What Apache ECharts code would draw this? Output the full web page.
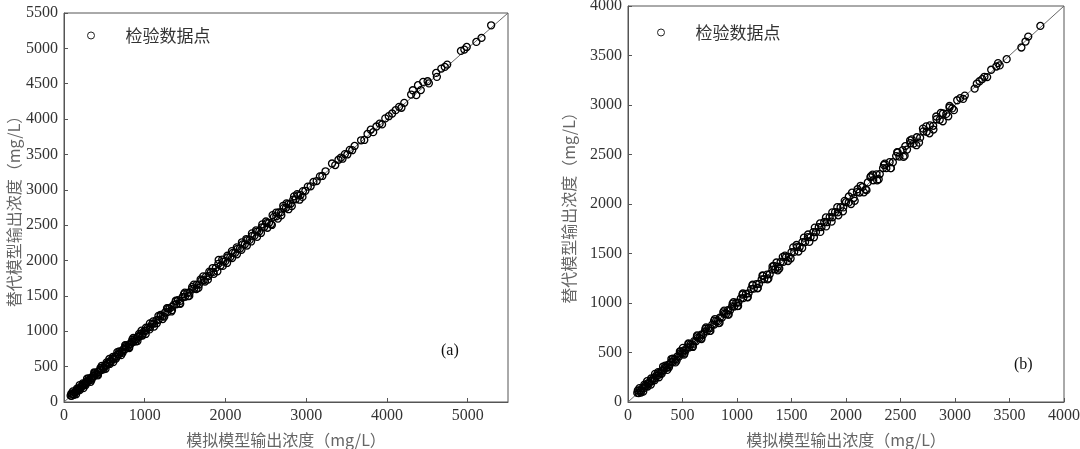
<!DOCTYPE html>
<html>
<head>
<meta charset="utf-8">
<script src="https://cdn.jsdelivr.net/npm/echarts@6/dist/echarts.min.js"></script>
<style>
  html, body { margin: 0; padding: 0; background: #fff; }
  #chart { width: 1080px; height: 449px; }
</style>
</head>
<body>
<div id="chart"></div>
<script>
// Panel (a): [simulation output, surrogate output] in mg/L
const pointsA = [
    [82,90],[95,88],[104,112],[116,108],[128,134],[140,133],[152,160],[164,157],[176,184],[189,181],
    [202,209],[214,207],[227,235],[240,232],[253,261],[266,258],[279,287],[292,285],[306,313],[319,311],
    [333,341],[347,339],[361,368],[375,367],[389,397],[403,395],[418,426],[432,424],[447,455],[462,453],
    [477,486],[492,483],[507,516],[522,514],[538,546],[553,545],[569,577],[585,576],[601,609],[617,609],
    [633,642],[650,641],[666,675],[683,674],[700,708],[717,709],[734,743],[752,743],[769,778],[787,778],
    [805,814],[823,814],[841,850],[860,851],[878,888],[897,888],[916,926],[935,926],[955,965],[975,966],
    [994,1005],[1015,1008],[1040,1052],[1066,1058],[1092,1104],[1118,1110],[1145,1158],[1172,1162],
    [1198,1212],[1225,1215],[1252,1266],[1280,1270],[1308,1322],[1335,1345],[1363,1378],[1392,1382],
    [1412,1440],[1440,1430],[1470,1484],[1498,1488],[1527,1542],[1556,1546],[1585,1600],[1614,1604],
    [1643,1658],[1672,1660],[1702,1716],[1731,1722],[1760,1776],[1790,1780],[1820,1836],[1850,1840],
    [1880,1896],[1916,2009],[1940,1930],[1970,1986],[2000,1992],[2030,2046],[2060,2050],[2090,2108],
    [2120,2110],[2150,2166],[2180,2170],[2210,2228],[2240,2230],[2270,2290],[2300,2292],[2330,2348],
    [2360,2352],[2390,2410],[2420,2414],[2450,2470],[2480,2474],[2510,2530],[2540,2534],[2575,2503],
    [2600,2618],[2630,2624],[2660,2680],[2690,2684],[2720,2742],[2750,2745],[2780,2800],[2810,2806],
    [2840,2862],[2870,2866],[2900,2922],[2930,2926],[2960,2982],[2990,2986],
    [3020,3045],[3055,3050],[3090,3112],[3130,3124],[3170,3190],[3200,3196],[3240,3262],[3320,3372],
    [3360,3350],[3400,3425],[3430,3455],[3450,3440],[3480,3505],[3510,3500],[3540,3565],[3570,3560],
    [3600,3620],[3680,3700],[3720,3705],[3760,3790],[3800,3850],[3830,3815],[3870,3895],[3910,3935],
    [3940,3925],[3980,4010],[4023,4041],[4065,4079],[4108,4126],[4151,4173],[4180,4160],[4215,4230],
    [4300,4347],[4321,4408],[4364,4338],[4385,4479],[4420,4410],[4449,4526],[4504,4535],[4520,4505],
    [4610,4653],[4619,4597],[4674,4714],[4717,4738],[4747,4771],[4917,4964],[4959,4983],[4989,5020],
    [5108,5091],[5172,5148],[5291,5326]
];
// Panel (a), more points of the dense band
const pointsA2 = [
    [90,118],[125,100],[160,188],[195,170],[232,262],[268,240],[305,335],[340,312],[378,408],[414,386],
    [452,482],[490,462],[528,560],[566,538],[605,636],[644,614],[684,716],[724,694],[764,796],[805,774],
    [846,880],[888,856],[930,964],[972,940],[1016,1050],[1060,1026],[1104,1140],[1150,1114],[1196,1232],
    [1242,1206],[1290,1326],[1338,1300],[1386,1424],[1436,1396],[1486,1524],[1536,1496],[1588,1628],
    [1640,1598],[1692,1732],[1746,1704],[1800,1842],[1856,1812],[1912,1954],[1968,1924],[2024,2068],
    [2082,2036],[2140,2186],[2198,2152],[2258,2304],[2318,2270],[2378,2426],[2440,2390],[2502,2552],
    [2564,2512],[2628,2678],[2692,2640],[2756,2808],[2822,2770],[2888,2940],[2954,2900]
];
const pointsA3 = [
    [110,150],[150,110],[195,240],[240,196],[285,330],[330,286],[375,420],[420,376],[468,512],[515,470],
    [562,608],[610,564],[660,705],[708,662],[758,804],[808,762],[858,905],[910,862],[960,1008],[1012,962],
    [1064,1112],[1116,1066],[1170,1218],[1222,1172],[1276,1326],[1330,1280],[1385,1434],[1440,1388],
    [1496,1546],[1552,1500],[1608,1660],[1666,1614],[1724,1776],[1782,1730],[1842,1894],[1900,1848],
    [1960,2014],[2020,1966],[2080,2134],[2142,2088],[2204,2258],[2266,2212],[2328,2384],[2392,2336],
    [2456,2512],[2520,2464],[2584,2642],[2650,2594],[2716,2774],[2782,2726],[2850,2908],[2918,2860]
];

// Panel (b)
const pointsB = [
    [85,92],[97,90],[108,116],[120,113],[132,140],[144,137],[156,164],[168,161],[181,189],[193,186],
    [206,214],[219,212],[232,240],[245,238],[258,266],[271,264],[285,293],[298,291],[312,320],[325,318],
    [339,347],[353,346],[367,375],[381,374],[395,403],[409,402],[424,432],[438,431],[453,461],[468,460],
    [483,491],[504,547],[498,490],[513,521],[528,520],[544,552],[559,551],[575,583],[591,582],[607,615],
    [623,614],[639,648],[655,646],[672,680],[688,679],[705,713],[722,713],[739,748],[756,747],[773,782],
    [791,782],[808,817],[826,817],[844,853],[862,853],[880,890],[899,889],[917,927],[936,926],[955,965],
    [974,964],[993,1003],[1012,1004],[1035,1046],[1058,1050],[1082,1092],[1106,1098],[1130,1141],
    [1154,1146],[1178,1190],[1202,1194],[1226,1238],[1250,1242],[1275,1287],[1300,1291],[1325,1338],
    [1350,1341],[1362,1409],[1375,1366],[1400,1414],[1425,1416],[1450,1464],[1475,1466],[1500,1514],
    [1525,1516],[1550,1565],[1575,1566],[1600,1615],[1625,1616],[1650,1666],[1675,1666],[1700,1716],
    [1725,1716],[1750,1766],[1775,1766],[1800,1818],[1825,1816],[1850,1868],[1875,1866],[1900,1918],
    [1925,1916],[1950,1968],[1975,1966],[2000,2018],[2025,2016],[2055,2114],[2070,2060],[2100,2120],
    [2125,2116],[2150,2170],[2181,2148],[2200,2218],[2229,2282],[2250,2240],[2280,2300],[2310,2302],
    [2340,2362],[2370,2362],[2400,2422],[2430,2422],[2460,2484],[2490,2480],[2520,2544],[2544,2584],
    [2560,2550],[2590,2614],[2620,2610],[2650,2674],[2680,2670],[2710,2734],[2740,2730],[2770,2794],
    [2800,2790],[2830,2856],[2860,2850],[2890,2914],[2920,2910],[2950,2974],[2975,2966],
    [3020,3048],[3048,3070],[3075,3062],[3090,3095],[3180,3165],[3200,3215],[3225,3240],[3250,3262],
    [3270,3285],[3295,3282],[3332,3356],[3379,3389],[3395,3423],[3410,3400],[3474,3463],[3609,3581],
    [3647,3641],[3672,3691],[3783,3799]
];
const pointsB2 = [
    [90,116],[118,96],[150,176],[180,156],[212,238],[244,220],[276,302],[308,284],[342,368],[376,350],
    [410,438],[446,418],[482,510],[518,490],[556,584],[594,564],[632,662],[670,640],[710,740],[750,718],
    [790,822],[832,798],[874,906],[916,882],[960,994],[1004,968],[1050,1084],[1096,1060],[1142,1178],
    [1190,1152],[1238,1274],[1288,1248],[1338,1376],[1388,1348],[1440,1478],[1492,1450],[1546,1586],
    [1598,1556],[1652,1692],[1706,1664],[1762,1804],[1818,1774],[1874,1916],[1930,1886],[1988,2032],
    [2046,2000],[2106,2150],[2164,2118],[2224,2270],[2286,2238],[2348,2394],[2410,2362],[2474,2520],
    [2538,2488],[2604,2652],[2670,2620],[2736,2784],[2802,2752],[2870,2920],[2938,2886]
];
const pointsB3 = [
    [105,140],[140,106],[175,210],[210,176],[248,284],[284,250],[322,358],[360,324],[398,434],[436,400],
    [476,512],[514,478],[554,592],[594,556],[634,672],[674,636],[716,754],[756,718],[798,838],[840,800],
    [882,922],[924,884],[968,1008],[1010,970],[1054,1096],[1098,1058],[1144,1186],[1188,1148],[1234,1278],
    [1280,1238],[1326,1370],[1374,1330],[1420,1466],[1468,1424],[1516,1562],[1564,1520],[1614,1660],
    [1664,1618],[1714,1762],[1764,1718],[1816,1864],[1868,1822],[1920,1968],[1972,1926],[2026,2076],
    [2080,2032],[2134,2184],[2188,2140],[2244,2296],[2300,2250],[2356,2408],[2412,2362],[2470,2524],
    [2528,2476],[2588,2642],[2646,2594],[2706,2762],[2766,2714],[2828,2884],[2888,2836],[2950,2990],
    [2990,2948]
];

// Axis ranges
const maxA = 5500, xStepA = 1000, yStepA = 500;
const maxB = 4000, stepB = 500;

const seriesName = '检验数据点';
const xTitle = '模拟模型输出浓度（mg/L）';
const yTitle = '替代模型输出浓度（mg/L）';
const panelLabels = ['(a)', '(b)'];

const serif = 'Liberation Serif';
const cjk = 'Noto Sans CJK SC';

const valueAxis = (gridIndex, max, interval, isX) => ({
    type: 'value',
    gridIndex: gridIndex,
    min: 0,
    max: max,
    interval: interval,
    name: isX ? xTitle : yTitle,
    nameLocation: 'middle',
    nameGap: isX ? 30 : (gridIndex === 0 ? 42 : 51),
    nameTextStyle: { fontFamily: cjk, fontSize: 16, color: '#666' },
    axisLine: { show: true, lineStyle: { color: '#555', width: 1 } },
    axisTick: { show: true, inside: true, length: 4, lineStyle: { color: '#555' } },
    axisLabel: {
        fontFamily: serif, fontSize: 16, color: '#333',
        margin: 6,
        showMaxLabel: !(isX && gridIndex === 0),
        formatter: (v) => String(v)
    },
    splitLine: { show: false }
});

// hollow rings that do not hide each other
const ringStyle = { color: 'rgba(0,0,0,0)', borderColor: '#000', borderWidth: 1.3, opacity: 1 };

const legendBox = (left, top) => ({
    data: [seriesName], left: left, top: top, icon: 'circle',
    itemWidth: 7, itemHeight: 7,
    itemStyle: { color: 'rgba(0,0,0,0)', borderColor: '#222', borderWidth: 1 },
    textStyle: { fontFamily: cjk, fontSize: 17, color: '#333', padding: [0, 0, 0, 26] }
});

const chart = echarts.init(document.getElementById('chart'));
chart.setOption({
    animation: false,
    grid: [
        { left: 64, top: 13, width: 444, height: 389, show: true, borderColor: '#555', borderWidth: 1,
          containLabel: false, outerBoundsMode: 'none' },
        { left: 628, top: 6, width: 436, height: 396, show: true, borderColor: '#555', borderWidth: 1,
          containLabel: false, outerBoundsMode: 'none' }
    ],
    xAxis: [
        valueAxis(0, maxA, xStepA, true),
        valueAxis(1, maxB, stepB, true)
    ],
    yAxis: [
        valueAxis(0, maxA, yStepA, false),
        valueAxis(1, maxB, stepB, false)
    ],
    legend: [legendBox(82, 22), legendBox(652, 19)],
    graphic: [
        { type: 'text', left: 441, top: 343, style: { text: panelLabels[0], font: '16px ' + serif, fill: '#111' } },
        { type: 'text', left: 1014, top: 357, style: { text: panelLabels[1], font: '16px ' + serif, fill: '#111' } }
    ],
    series: [
        {
            type: 'line', xAxisIndex: 0, yAxisIndex: 0, data: [[0, 0], [maxA, maxA]],
            symbol: 'none', silent: true, lineStyle: { color: '#666', width: 1 }, z: 1
        },
        {
            name: seriesName, type: 'scatter', xAxisIndex: 0, yAxisIndex: 0,
            data: pointsA.concat(pointsA2, pointsA3),
            symbol: 'circle', symbolSize: 7, itemStyle: ringStyle, z: 2
        },
        {
            type: 'line', xAxisIndex: 1, yAxisIndex: 1, data: [[0, 0], [maxB, maxB]],
            symbol: 'none', silent: true, lineStyle: { color: '#666', width: 1 }, z: 1
        },
        {
            name: seriesName, type: 'scatter', xAxisIndex: 1, yAxisIndex: 1,
            data: pointsB.concat(pointsB2, pointsB3),
            symbol: 'circle', symbolSize: 7, itemStyle: ringStyle, z: 2
        }
    ]
});
</script>
</body>
</html>
